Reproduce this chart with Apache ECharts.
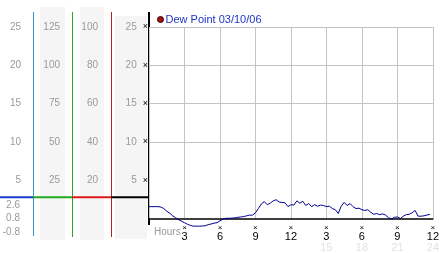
<!DOCTYPE html>
<html><head><meta charset="utf-8">
<script src="https://cdn.jsdelivr.net/npm/echarts@6/dist/echarts.min.js"></script>
<style>html,body{margin:0;padding:0;background:#fff}#c{width:442px;height:253px}</style>
</head><body><div id="c"></div>
<script>
// ---- data ----
const seriesName = 'Dew Point 03/10/06';
const hours = [0,0.25,0.5,0.75,1,1.25,1.5,1.75,2,2.25,2.5,2.75,3,3.25,3.5,3.75,4,4.25,4.5,4.75,5,5.25,5.5,5.75,6,6.25,6.5,6.75,7,7.25,7.5,7.75,8,8.25,8.5,8.75,9,9.25,9.5,9.75,10,10.25,10.5,10.75,11,11.25,11.5,11.75,12,12.25,12.5,12.75,13,13.25,13.5,13.75,14,14.25,14.5,14.75,15,15.25,15.5,15.75,16,16.25,16.5,16.75,17,17.25,17.5,17.75,18,18.25,18.5,18.75,19,19.25,19.5,19.75,20,20.25,20.5,20.75,21,21.25,21.5,21.75,22,22.25,22.5,22.75,23,23.25,23.5,23.75];
const dewPoint = [1.55,1.55,1.55,1.55,1.5,1.3,0.95,0.7,0.35,0.1,-0.15,-0.35,-0.55,-0.75,-0.9,-1.0,-1.0,-1.0,-0.98,-0.95,-0.8,-0.72,-0.6,-0.55,-0.3,-0.1,0.03,0.03,0.05,0.08,0.15,0.2,0.25,0.35,0.44,0.44,0.75,1.3,1.9,2.2,1.8,2.0,2.3,2.45,2.15,2.1,2.05,1.55,1.8,1.75,2.3,2.0,2.25,1.7,1.95,1.55,1.8,1.6,1.75,1.7,1.55,1.6,1.3,1.15,0.65,1.6,2.1,1.7,1.95,1.55,1.3,1.35,1.15,1.05,1.15,0.8,0.55,0.65,0.5,0.6,0.45,0.1,-0.05,0.15,0.2,0.0,0.3,0.5,0.55,0.75,1.05,0.3,0.3,0.35,0.45,0.55];
const xTicks = [3,6,9,12,15,18,21,24];
const clockLabels = ['3','6','9','12','3','6','9','12'];
const dayLabels = ['','','','','15','18','21','24'];
const lowLabels = ['2.6','0.8','-0.8'];
const axisTitle = 'Hours';

const FONT = 'Liberation Sans, Arial, sans-serif';
const GRAY = '#9a9a9a';
const chart = echarts.init(document.getElementById('c'), null, {renderer:'canvas'});

function colAxis(offset, max, interval, margin){
  return {type:'value', gridIndex:0, position:'left', offset:offset, min:0, max:max, interval:interval, z:5,
    axisLine:{show:false}, axisTick:{show:false}, splitLine:{show:false},
    axisLabel:{show:true, showMinLabel:false, margin:margin, color:GRAY, fontSize:10, fontFamily:FONT}};
}

const option = {
  animation:false,
  backgroundColor:'#fff',
  legend:{data:[{name:seriesName, icon:'circle', itemStyle:{color:'#a51010', borderColor:'#3a0000', borderWidth:1}}],
    left:157, top:14, itemWidth:6, itemHeight:6, padding:0,
    textStyle:{color:'#1f35c8', fontSize:11, fontFamily:FONT, padding:[0,0,0,-3]}},
  grid:[{left:149, top:27, width:289, height:197.5, containLabel:false}],
  xAxis:[{type:'value', min:0, max:24, interval:3,
    axisLine:{show:true, lineStyle:{color:'#000', width:1.5}},
    axisTick:{show:false},
    splitLine:{show:true, lineStyle:{color:'#c4c4c4', width:1}},
    axisLabel:{show:true, showMinLabel:false, margin:6, fontFamily:FONT,
      formatter:function(v){
        const i = xTicks.indexOf(v); if(i<0) return '';
        let s = '{t|×}\n{n|' + clockLabels[i] + '}';
        if(dayLabels[i]) s += '\n{s|' + dayLabels[i] + '}';
        return s;
      },
      rich:{
        t:{fontSize:8, lineHeight:7, color:'#000', fontFamily:FONT},
        n:{fontSize:11, lineHeight:10, color:'#000', fontFamily:FONT},
        s:{fontSize:11, lineHeight:12, color:'#e2e2e2', fontFamily:FONT}
      }}}],
  yAxis:[
    {type:'value', gridIndex:0, position:'left', offset:0, min:0, max:25, interval:5, z:5,
      axisLine:{show:false}, axisTick:{show:false},
      splitLine:{show:true, lineStyle:{color:['rgba(0,0,0,0)','rgba(0,0,0,0)','#c4c4c4','#c4c4c4','#c4c4c4','#c4c4c4'], width:1}},
      axisLabel:{show:true, showMinLabel:false, margin:0, color:GRAY, fontSize:10, fontFamily:FONT,
        formatter:function(v){return '{n|' + v + '}{x|×}';},
        rich:{n:{color:GRAY, fontSize:10, fontFamily:FONT},
              x:{color:'#000', fontSize:9, fontFamily:FONT, padding:[0,1,0,6]}}}},
    colAxis(38, 100, 20, 13),
    colAxis(77, 125, 25, 12),
    colAxis(116, 25, 5, 12)
  ],
  graphic:[
    {type:'rect', z:-10, shape:{x:40, y:7, width:25, height:233}, style:{fill:'#f5f5f5'}},
    {type:'rect', z:-10, shape:{x:80, y:7, width:24, height:233}, style:{fill:'#f5f5f5'}},
    {type:'rect', z:-10, shape:{x:115, y:16, width:32, height:223}, style:{fill:'#f5f5f5'}},
    {type:'line', shape:{x1:33.5, y1:12, x2:33.5, y2:236}, style:{stroke:'#2f98d0', lineWidth:1}},
    {type:'line', shape:{x1:72.5, y1:12, x2:72.5, y2:237}, style:{stroke:'#2aa52a', lineWidth:1}},
    {type:'line', shape:{x1:111.5, y1:12, x2:111.5, y2:237}, style:{stroke:'#b52020', lineWidth:1}},
    {type:'line', shape:{x1:149, y1:12, x2:149, y2:225}, style:{stroke:'#000', lineWidth:2}},
    {type:'line', shape:{x1:0, y1:197.3, x2:33, y2:197.3}, style:{stroke:'#1a3ccc', lineWidth:2}},
    {type:'line', shape:{x1:33, y1:197.3, x2:72, y2:197.3}, style:{stroke:'#22aa22', lineWidth:2}},
    {type:'line', shape:{x1:72, y1:197.3, x2:111, y2:197.3}, style:{stroke:'#dd1a1a', lineWidth:2}},
    {type:'line', shape:{x1:111, y1:197.3, x2:149, y2:197.3}, style:{stroke:'#000', lineWidth:2}},
    {type:'text', x:20, y:205, style:{text:lowLabels[0], fill:GRAY, font:'10px '+FONT, textAlign:'right', textVerticalAlign:'middle'}},
    {type:'text', x:20, y:218.5, style:{text:lowLabels[1], fill:GRAY, font:'10px '+FONT, textAlign:'right', textVerticalAlign:'middle'}},
    {type:'text', x:20, y:232, style:{text:lowLabels[2], fill:GRAY, font:'10px '+FONT, textAlign:'right', textVerticalAlign:'middle'}},
    {type:'text', x:154, y:232, style:{text:axisTitle, fill:GRAY, font:'10px '+FONT, textAlign:'left', textVerticalAlign:'middle'}}
  ],
  series:[{name:seriesName, type:'line', xAxisIndex:0, yAxisIndex:0, clip:false,
    data:hours.map((h,i)=>[h, dewPoint[i]]),
    showSymbol:false, symbol:'none',
    itemStyle:{color:'#a51010'},
    lineStyle:{color:'#000090', width:1}}]
};
chart.setOption(option);
</script></body></html>
